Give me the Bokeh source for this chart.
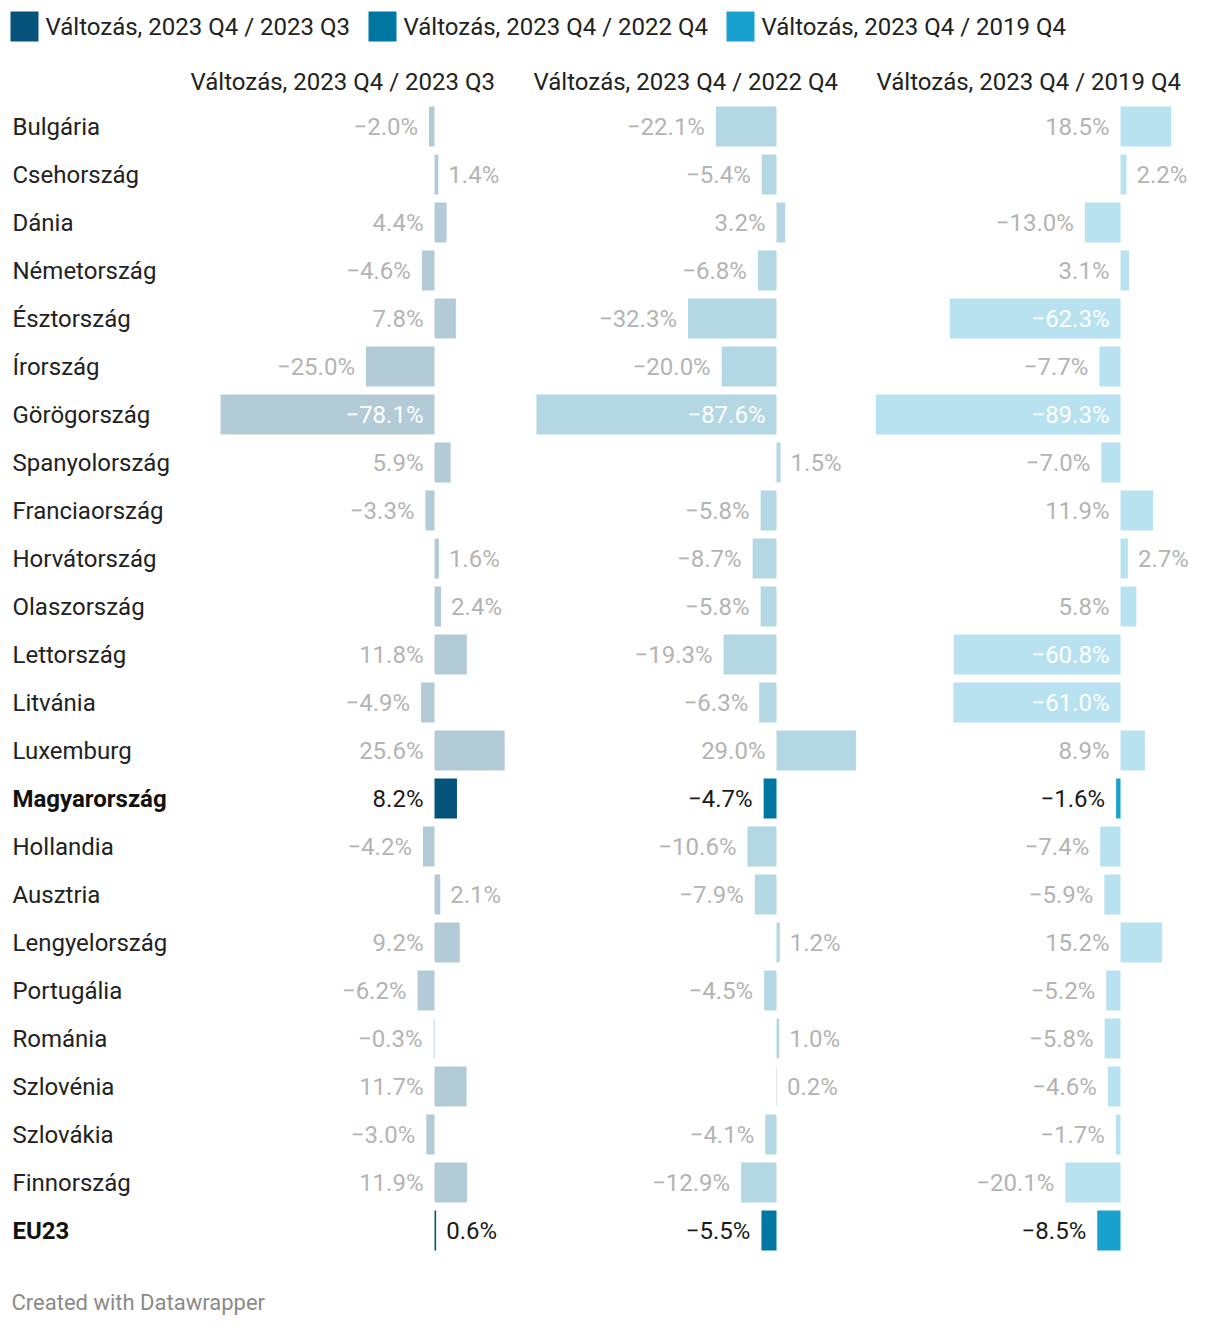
from bokeh.plotting import figure
from bokeh.models import Range1d, ColumnDataSource
from bokeh.core.properties import value
from bokeh.embed import file_html
from bokeh.resources import INLINE

countries = ["Bulgária", "Csehország", "Dánia", "Németország", "Észtország", "Írország",
             "Görögország", "Spanyolország", "Franciaország", "Horvátország", "Olaszország",
             "Lettország", "Litvánia", "Luxemburg", "Magyarország", "Hollandia", "Ausztria",
             "Lengyelország", "Portugália", "Románia", "Szlovénia", "Szlovákia", "Finnország", "EU23"]
highlight = ["Magyarország", "EU23"]

series_names = ["Változás, 2023 Q4 / 2023 Q3", "Változás, 2023 Q4 / 2022 Q4", "Változás, 2023 Q4 / 2019 Q4"]
q4_q3 = [-2.0, 1.4, 4.4, -4.6, 7.8, -25.0, -78.1, 5.9, -3.3, 1.6, 2.4, 11.8, -4.9, 25.6, 8.2,
         -4.2, 2.1, 9.2, -6.2, -0.3, 11.7, -3.0, 11.9, 0.6]
q4_q4_2022 = [-22.1, -5.4, 3.2, -6.8, -32.3, -20.0, -87.6, 1.5, -5.8, -8.7, -5.8, -19.3, -6.3,
              29.0, -4.7, -10.6, -7.9, 1.2, -4.5, 1.0, 0.2, -4.1, -12.9, -5.5]
q4_q4_2019 = [18.5, 2.2, -13.0, 3.1, -62.3, -7.7, -89.3, -7.0, 11.9, 2.7, 5.8, -60.8, -61.0,
              8.9, -1.6, -7.4, -5.9, 15.2, -5.2, -5.8, -4.6, -1.7, -20.1, -8.5]
series = [q4_q3, q4_q4_2022, q4_q4_2019]

# styles
W, H = 1220, 1328
PX_PER_PCT = 2.74
zero_px = [434, 776, 1120]
panel_left_px = [190, 533, 876]
light_colors = ["#b3cad7", "#b4d7e4", "#b9e2f0"]
dark_colors = ["#05527a", "#0077a3", "#18a1cf"]
legend_sq_px = [10, 368, 726]
ROW_PX0, ROW_STEP = 126, 48
FONT = value("Roboto")
FS = "24px"

p = figure(width=W, height=H, output_backend="svg", toolbar_location=None,
           x_range=Range1d(0, W),
           y_range=Range1d((H - ROW_PX0) / ROW_STEP, -ROW_PX0 / ROW_STEP),
           min_border=0, outline_line_color=None)
p.axis.visible = False
p.grid.visible = False

def yidx(px):
    return (px - ROW_PX0) / ROW_STEP

rows = list(range(len(countries)))

for k in range(3):
    name = f"c{k}"
    p.extra_x_ranges[name] = Range1d(-zero_px[k] / PX_PER_PCT, (W - zero_px[k]) / PX_PER_PCT)
    vals = series[k]
    colors = [dark_colors[k] if c in highlight else light_colors[k] for c in countries]
    src = ColumnDataSource(dict(y=rows, left=[min(0, v) for v in vals],
                                right=[max(0, v) for v in vals], color=colors))
    p.hbar(y="y", left="left", right="right", height=40 / ROW_STEP, fill_color="color",
           line_color=None, source=src, x_range_name=name)

    room_pct = (zero_px[k] - panel_left_px[k] - 90) / PX_PER_PCT
    groups = {"left": dict(x=[], y=[], t=[], c=[]), "right": dict(x=[], y=[], t=[], c=[]),
              "inside": dict(x=[], y=[], t=[], c=[])}
    for i, v in enumerate(vals):
        txt = f"{v:.1f}%".replace("-", "\u2212")
        col = "#1a1a1a" if countries[i] in highlight else "#b4b4b4"
        if 0 < v < 3:
            g = "right"; x = v
        elif v < 0 and -v > room_pct:
            g = "inside"; x = 0; col = "#ffffff"
        else:
            g = "left"; x = min(0, v)
        groups[g]["x"].append(x); groups[g]["y"].append(i)
        groups[g]["t"].append(txt); groups[g]["c"].append(col)
    for g, off, align in [("left", -11, "right"), ("right", 10, "left"), ("inside", -11, "right")]:
        d = groups[g]
        if not d["x"]:
            continue
        p.text(x="x", y="y", text="t", text_color="c", source=ColumnDataSource(d),
               x_range_name=name, x_offset=off, text_align=align, text_baseline="middle",
               text_font=FONT, text_font_size=FS)
    # column header
    p.text(x=[0], y=[yidx(81)], text=[series_names[k]], x_range_name=name,
           x_offset=panel_left_px[k] - zero_px[k], text_align="left", text_baseline="middle",
           text_font=FONT, text_font_size=FS, text_color="#222222")
    # legend
    p.rect(x=[legend_sq_px[k] + 14], y=[yidx(26)], width=28, height=30 / ROW_STEP,
           fill_color=dark_colors[k], line_color=None)
    p.text(x=[legend_sq_px[k] + 35], y=[yidx(26)], text=[series_names[k]],
           text_align="left", text_baseline="middle", text_font=FONT,
           text_font_size=FS, text_color="#222222")

# row labels
normal = [i for i, c in enumerate(countries) if c not in highlight]
bold = [i for i, c in enumerate(countries) if c in highlight]
p.text(x=[12] * len(normal), y=normal, text=[countries[i] for i in normal], text_align="left",
       text_baseline="middle", text_font=FONT, text_font_size=FS, text_color="#222222")
p.text(x=[12] * len(bold), y=bold, text=[countries[i] for i in bold], text_align="left",
       text_baseline="middle", text_font=FONT, text_font_size=FS, text_color="#111111",
       text_font_style="bold")

# footer
p.text(x=[11], y=[yidx(1302)], text=["Created with Datawrapper"], text_align="left",
       text_baseline="middle", text_font=FONT, text_font_size="22px", text_color="#8a8a8a")

open("out.html", "w").write(file_html(p, INLINE))
